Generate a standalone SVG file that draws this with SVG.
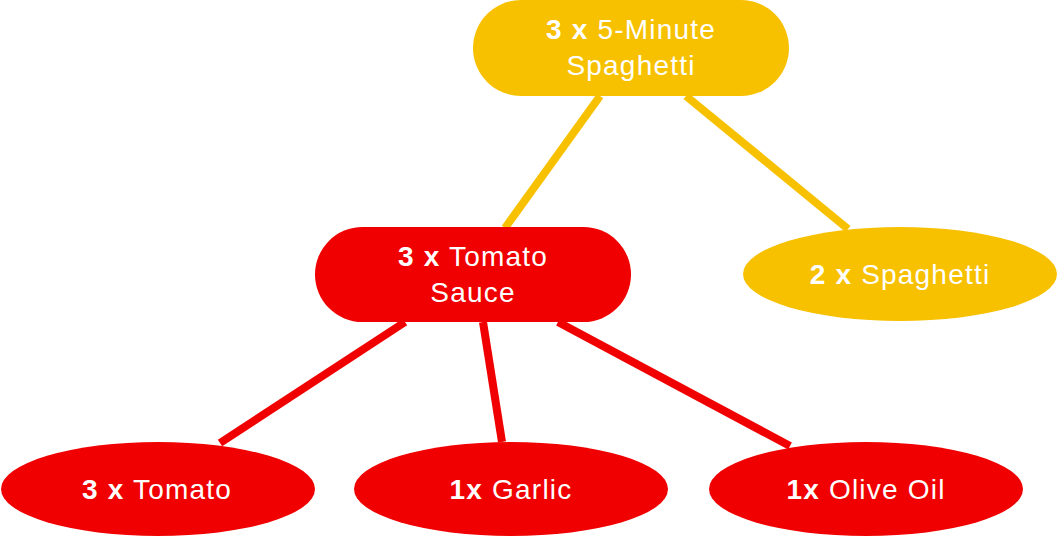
<svg xmlns="http://www.w3.org/2000/svg" width="1058" height="537" viewBox="0 0 1058 537">
<style>
.y{fill:#F7C100}
.r{fill:#F00000}
.ly{stroke:#F7C100;stroke-width:8;fill:none}
.lr{stroke:#F00000;stroke-width:8;fill:none}
text{font-family:"Liberation Sans",Arial,sans-serif;font-size:28px;letter-spacing:1.2px;fill:#fff;text-anchor:middle}
.b{font-weight:bold}
</style>
<rect width="1058" height="537" fill="#fff"/>
<g id="connectors">
<line class="ly" x1="600" y1="96" x2="505" y2="228"/>
<line class="ly" x1="686" y1="96" x2="848" y2="229"/>
<line class="lr" x1="405" y1="322" x2="220" y2="443"/>
<line class="lr" x1="483" y1="322" x2="502" y2="442"/>
<line class="lr" x1="558" y1="322" x2="790" y2="446"/>
</g>
<g id="n-five-minute-spaghetti">
<rect class="y" x="473" y="0" width="316" height="96" rx="48"/>
<text x="631" y="39"><tspan class="b">3 x</tspan> 5-Minute</text>
<text x="631" y="75">Spaghetti</text>
</g>
<g id="n-tomato-sauce">
<rect class="r" x="315" y="227" width="316" height="95" rx="47.5"/>
<text x="473" y="266"><tspan class="b">3 x</tspan> Tomato</text>
<text x="473" y="302">Sauce</text>
</g>
<g id="n-spaghetti">
<ellipse class="y" cx="900" cy="274" rx="157" ry="47"/>
<text x="900" y="284"><tspan class="b">2 x</tspan> Spaghetti</text>
</g>
<g id="n-tomato">
<ellipse class="r" cx="158" cy="489" rx="157" ry="47"/>
<text x="157" y="499"><tspan class="b">3 x</tspan> Tomato</text>
</g>
<g id="n-garlic">
<ellipse class="r" cx="511" cy="489" rx="157" ry="47"/>
<text x="511" y="499"><tspan class="b">1x</tspan> Garlic</text>
</g>
<g id="n-olive-oil">
<ellipse class="r" cx="866" cy="489" rx="157" ry="47"/>
<text x="866" y="499"><tspan class="b">1x</tspan> Olive Oil</text>
</g>
</svg>
